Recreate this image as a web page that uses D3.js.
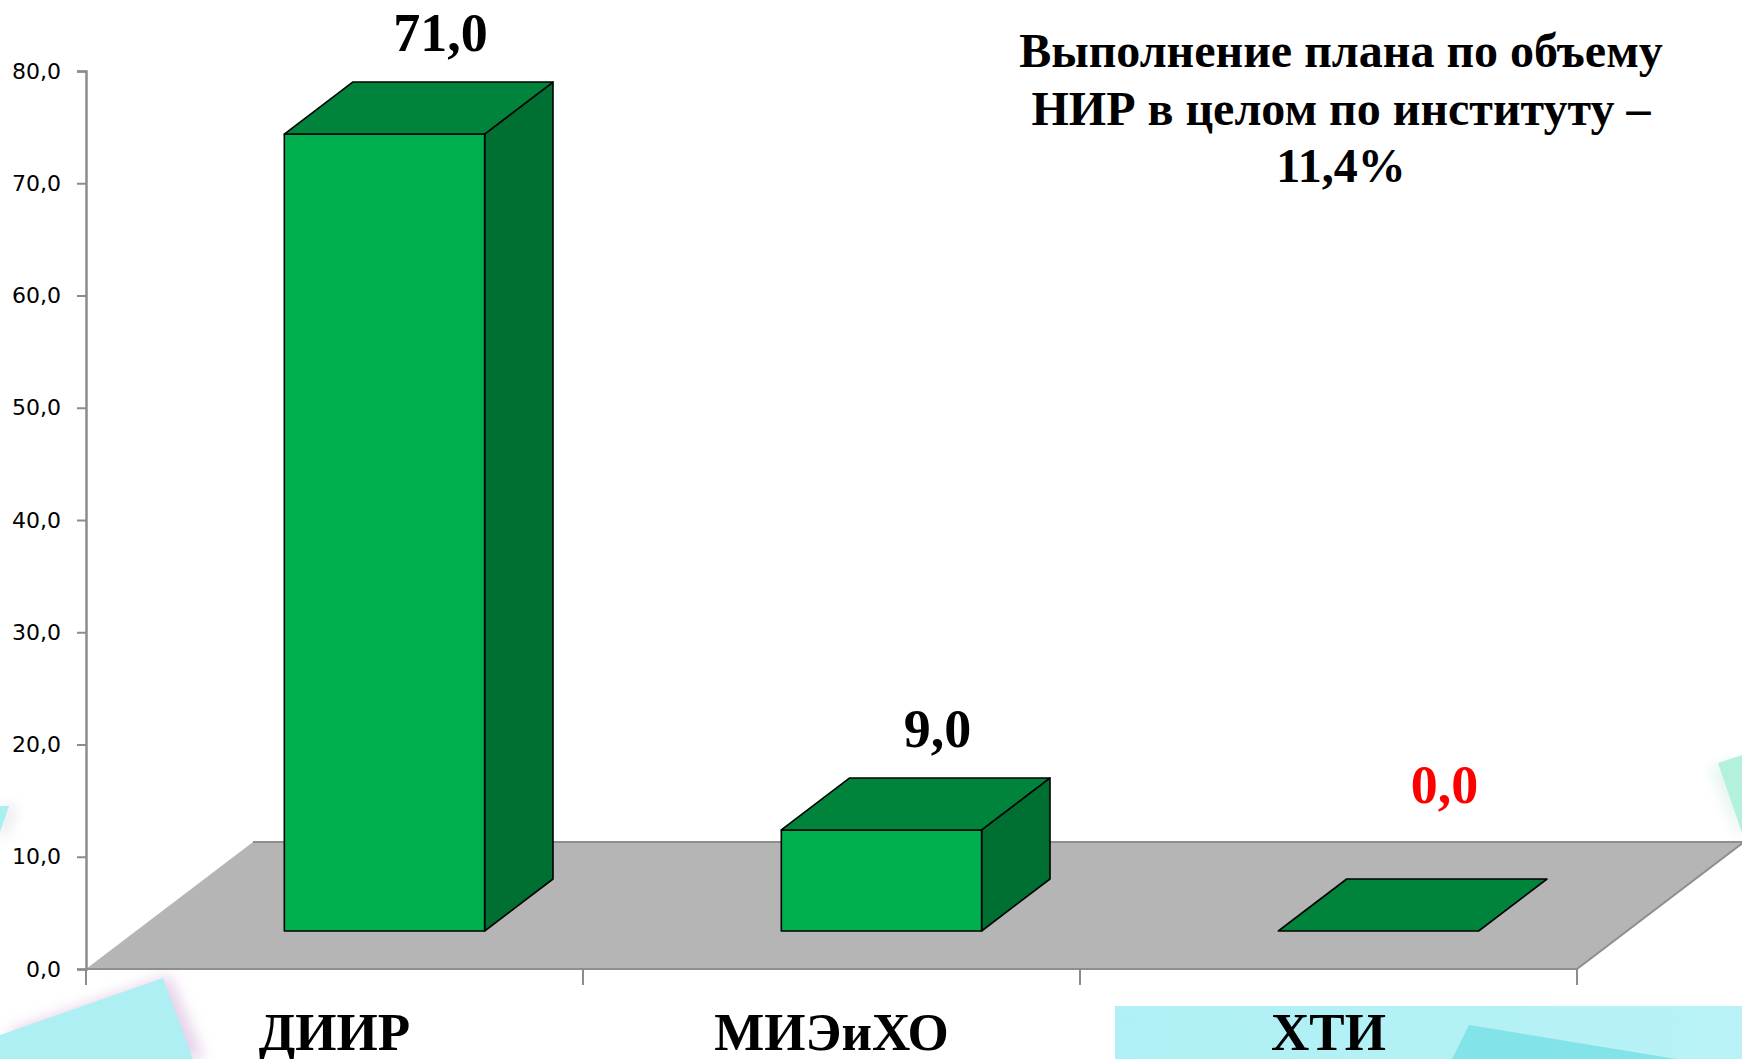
<!DOCTYPE html>
<html><head><meta charset="utf-8">
<script src="https://cdn.jsdelivr.net/npm/d3@7"></script>
<style>html,body{margin:0;padding:0;background:#fff;overflow:hidden}</style>
</head><body>
<svg id="c" width="1742" height="1059"></svg>
<script>
const categories = ["ДИИР", "МИЭиХО", "ХТИ"];
const values = [71.0, 9.0, 0.0];
const labelColors = ["#000000", "#000000", "#ff0000"];
const yTicks = [0, 10, 20, 30, 40, 50, 60, 70, 80];
const titleLines = ["Выполнение плана по объему", "НИР в целом по институту –", "11,4%"];

const svg = d3.select("#c");
const W = 1742, H = 1059;
const x0 = 86, x1 = 1577, yBase = 969, yTop = 71;
const floorDepth = 127, slope = 1.315;       // projection of depth
const barFront = 38, barDepth = 52;          // depth positions of bars
const fmt = v => d3.format(".1f")(v).replace(".", ",");

// ---- decorative background ----
const defs = svg.append("defs");
defs.append("filter").attr("id","blur").attr("x","-50%").attr("y","-50%").attr("width","200%").attr("height","200%")
  .append("feGaussianBlur").attr("stdDeviation", 7);
const cyanGrad = defs.append("linearGradient").attr("id","cg").attr("x1","0").attr("x2","1").attr("y1","0").attr("y2","0");
cyanGrad.append("stop").attr("offset","0").attr("stop-color","#aef0f5");
cyanGrad.append("stop").attr("offset","1").attr("stop-color","#b8f2f6");
const deco = svg.append("g");
deco.append("polygon").attr("points","10,1030 170,975 205,1059 10,1059").attr("fill","#e7d3ea").attr("filter","url(#blur)");
deco.append("polygon").attr("points","0,1035 163,978 193,1059 0,1059").attr("fill","#aeeff4");
deco.append("polygon").attr("points","0,806 16,806 6,836 0,840").attr("fill","#e5e5ee").attr("filter","url(#blur)");
deco.append("polygon").attr("points","0,806 9,806 0,832").attr("fill","#a8f0ec");
deco.append("polygon").attr("points","1710,768 1742,760 1742,845").attr("fill","#e4f4ee").attr("filter","url(#blur)");
deco.append("polygon").attr("points","1718,763 1742,755 1742,833").attr("fill","#b3f1dc");
deco.append("rect").attr("x",1115).attr("y",1006).attr("width",W-1115).attr("height",H-1006).attr("fill","url(#cg)");
deco.append("polygon").attr("points","1469,1025 1676,1059 1452,1059").attr("fill","#82e3e8");

// ---- scales ----
const x = d3.scaleBand().domain(categories).range([x0, x1]).padding(0);
const y = d3.scaleLinear().domain([0, 80]).range([yBase, yTop]);
const px = d => d * slope;   // horizontal shift for a depth

// ---- floor ----
const fdx = px(floorDepth);
svg.append("polygon")
  .attr("points", [[x0, yBase], [x0 + fdx, yBase - floorDepth], [x1 + fdx, yBase - floorDepth], [x1, yBase]].map(p => p.join(",")).join(" "))
  .attr("fill", "#b5b5b5");
svg.append("path")
  .attr("d", `M${x0 + fdx},${yBase - floorDepth}L${x1 + fdx},${yBase - floorDepth}L${x1},${yBase}L${x0},${yBase}`)
  .attr("fill", "none").attr("stroke", "#8e8e8e").attr("stroke-width", 2);

// ---- y axis ----
const yAxis = d3.axisLeft(y).tickValues(yTicks).tickFormat(fmt).tickSize(9).tickPadding(16);
const ga = svg.append("g").attr("transform", `translate(${x0},0)`).call(yAxis);
ga.select(".domain").attr("stroke", "#8c8c8c").attr("stroke-width", 2.5);
ga.selectAll(".tick line").attr("stroke", "#8c8c8c").attr("stroke-width", 2);
ga.selectAll(".tick text").attr("font-family", "DejaVu Sans, Verdana, sans-serif").attr("font-size", 22).attr("fill", "#000");

// category ticks below base
const catTicks = categories.map(c => x(c)).concat([x1]);
svg.selectAll(".ct").data(catTicks).enter().append("line")
  .attr("x1", d => d).attr("x2", d => d).attr("y1", yBase).attr("y2", yBase + 16)
  .attr("stroke", "#8c8c8c").attr("stroke-width", 2);

// ---- bars ----
const bw = x.bandwidth() * 0.403;
const bars = svg.append("g");
categories.forEach((c, i) => {
  const v = values[i];
  const cx = x(c) + x.bandwidth() / 2 + px(barFront);
  const L = cx - bw / 2, R = cx + bw / 2;
  const bot = y(0) - barFront, top = y(v) - barFront;
  const dx = px(barDepth), dy = barDepth;
  const g = bars.append("g").attr("stroke", "#000").attr("stroke-width", 1.6).attr("stroke-linejoin", "round");
  if (v > 0) {
    g.append("polygon").attr("fill", "#006f32")
      .attr("points", [[R, top], [R + dx, top - dy], [R + dx, bot - dy], [R, bot]].map(p => p.join(",")).join(" "));
    g.append("rect").attr("fill", "#00b04f").attr("x", L).attr("y", top).attr("width", bw).attr("height", bot - top);
  }
  g.append("polygon").attr("fill", "#00843c")
    .attr("points", [[L, top], [L + dx, top - dy], [R + dx, top - dy], [R, top]].map(p => p.join(",")).join(" "));
  // value label
  svg.append("text")
    .attr("x", cx + 56 + (v > 0 ? 0 : 10))
    .attr("y", y(Math.max(v, 4)) - barFront - barDepth - 31)
    .attr("text-anchor", "middle")
    .attr("font-family", "Liberation Serif, Times New Roman, serif")
    .attr("font-weight", "bold").attr("font-size", 54)
    .attr("fill", labelColors[i])
    .text(fmt(v));
});

// ---- category labels ----
svg.selectAll(".cl").data(categories).enter().append("text")
  .attr("x", d => x(d) + x.bandwidth() / 2)
  .attr("y", 1050)
  .attr("text-anchor", "middle")
  .attr("font-family", "Liberation Serif, Times New Roman, serif")
  .attr("font-weight", "bold").attr("font-size", 53)
  .attr("fill", "#000")
  .text(d => d);

// ---- title ----
svg.selectAll(".tl").data(titleLines).enter().append("text")
  .attr("x", 1341)
  .attr("y", (d, i) => 67 + i * 57.5)
  .attr("text-anchor", "middle")
  .attr("font-family", "Liberation Serif, Times New Roman, serif")
  .attr("font-weight", "bold").attr("font-size", 48)
  .attr("fill", "#000")
  .text(d => d);
</script>
</body></html>
